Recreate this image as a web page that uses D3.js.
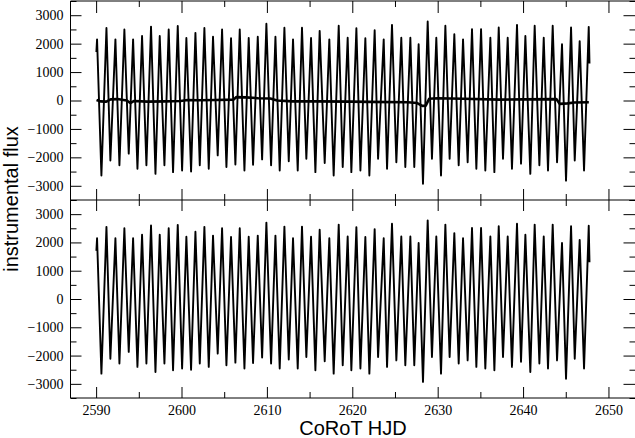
<!DOCTYPE html>
<html>
<head>
<meta charset="utf-8">
<script src="https://cdn.jsdelivr.net/npm/d3@7"></script>
<style>
  html, body { margin: 0; padding: 0; background: #fff; }
  svg { display: block; }
</style>
</head>
<body>
<svg id="chart" width="635" height="438"></svg>
<script>
// ---------- data ----------
const xTicks = [2590, 2600, 2610, 2620, 2630, 2640, 2650];
const xMinorTicks = [2585, 2595, 2605, 2615, 2625, 2635, 2645, 2655];
const yTicks = [-3000, -2000, -1000, 0, 1000, 2000, 3000];
const yMinorTicks = [-3500, -2500, -1500, -500, 500, 1500, 2500, 3500];

// light-curve maxima
const peakTimes = [2590.11, 2591.21, 2592.26, 2593.31, 2594.33, 2595.38, 2596.43, 2597.45, 2598.50, 2599.56,
  2600.57, 2601.63, 2602.68, 2603.69, 2604.75, 2605.80, 2606.82, 2607.87, 2608.93, 2609.94,
  2611.00, 2612.05, 2613.06, 2614.11, 2615.17, 2616.18, 2617.31, 2618.41, 2619.46, 2620.48,
  2621.53, 2622.62, 2623.68, 2624.65, 2625.74, 2626.80, 2627.77, 2628.83, 2629.84, 2630.90,
  2631.95, 2632.97, 2634.02, 2635.08, 2636.17, 2637.15, 2638.20, 2639.29, 2640.27, 2641.36,
  2642.42, 2643.47, 2644.56, 2645.62, 2646.63, 2647.69];
const peakFlux = [2150, 2550, 2150, 2500, 2150, 2270, 2600, 2270, 2500, 2620,
  2200, 2380, 2550, 2240, 2500, 2190, 2500, 2200, 2240, 2700,
  2240, 2560, 2150, 2560, 2200, 2450, 2150, 2630, 2210, 2540,
  2190, 2470, 2150, 2660, 2210, 2210, 1980, 2780, 2210, 2630,
  2330, 2150, 2510, 2510, 2210, 2570, 2210, 2660, 2270, 2630,
  2210, 2630, 1980, 2570, 2090, 2590];
// light-curve minima
const troughTimes = [2590.62, 2591.67, 2592.73, 2593.82, 2594.84, 2595.89, 2596.95, 2598.00, 2599.01, 2600.07,
  2601.12, 2602.14, 2603.19, 2604.24, 2605.26, 2606.31, 2607.37, 2608.38, 2609.44, 2610.49,
  2611.50, 2612.56, 2613.61, 2614.62, 2615.68, 2616.77, 2617.82, 2618.88, 2619.89, 2620.95,
  2622.00, 2623.02, 2624.07, 2625.16, 2626.21, 2627.26, 2628.28, 2629.33, 2630.39, 2631.40,
  2632.46, 2633.51, 2634.53, 2635.58, 2636.64, 2637.65, 2638.70, 2639.76, 2640.85, 2641.91,
  2642.92, 2643.98, 2645.03, 2646.05, 2647.14];
const troughFlux = [-2640, -2110, -2280, -1870, -2400, -2280, -2580, -2280, -2520, -2460,
  -2500, -2280, -2400, -1930, -2340, -2250, -2460, -2260, -2070, -2280,
  -2460, -2140, -2460, -2050, -2520, -2200, -2640, -2340, -2520, -2460,
  -2640, -2050, -2400, -2170, -2340, -2340, -2930, -2050, -2640, -2050,
  -2280, -2170, -2400, -2460, -2520, -2050, -2400, -2220, -2580, -2280,
  -2460, -2170, -2820, -2110, -2460];
// first and last samples of the light curve
const curveStart = [2590.03, 1700];
const curveEnd = [2647.78, 1300];

// near-zero trace in the upper panel
const trendTimes = [2590.05, 2590.5, 2591.2, 2591.7, 2592.5, 2593.2, 2593.6, 2594.0, 2594.4, 2596.0,
  2598.0, 2599.9, 2600.7, 2602.0, 2604.0, 2606.1, 2606.4, 2607.5, 2609.0, 2610.4,
  2611.2, 2613.0, 2616.0, 2619.8, 2622.0, 2626.5, 2627.6, 2628.2, 2628.6, 2629.0,
  2630.0, 2633.0, 2637.3, 2640.0, 2643.9, 2644.3, 2645.2, 2646.0, 2647.7];
const trendFlux = [20, -30, -40, 40, 50, 20, 0, -90, -20, -40,
  -30, -20, 20, 10, 20, 30, 120, 110, 80, 70,
  0, -30, -30, -40, -50, -60, -90, -190, -180, 60,
  80, 60, 30, 40, 50, -120, -100, -70, -60];

// ---------- layout ----------
const svg = d3.select("#chart");
const L = 70.5, R = 634.5, RF = 635.5, T = 1, MID = 200, B = 398;

const x = d3.scaleLinear().domain([2587, 2653.05]).range([L, R]);
const yTop = d3.scaleLinear().domain([-3500, 3500]).range([MID, T]);
const yBot = d3.scaleLinear().domain([-3500, 3500]).range([B, MID]);

const curve = [curveStart]
  .concat(peakTimes.map((t, i) => [t, peakFlux[i]]))
  .concat(troughTimes.map((t, i) => [t, troughFlux[i]]))
  .concat([curveEnd])
  .sort((a, b) => a[0] - b[0]);
const trend = trendTimes.map((t, i) => [t, trendFlux[i]]);

const tickFont = "'Liberation Serif', 'Times New Roman', serif";
const titleFont = "'Liberation Sans', Arial, sans-serif";

function styleAxis(g, labels) {
  g.select(".domain").remove();
  g.selectAll(".tick line").attr("stroke", "#000").attr("stroke-width", 1);
  g.selectAll(".tick text")
    .attr("font-family", tickFont).attr("font-size", 14).attr("fill", "#000");
  if (!labels) g.selectAll(".tick text").remove();
}

// clip paths
svg.append("clipPath").attr("id", "clipTop").append("rect")
  .attr("x", L).attr("y", T).attr("width", RF - L).attr("height", MID - T);
svg.append("clipPath").attr("id", "clipBot").append("rect")
  .attr("x", L).attr("y", MID).attr("width", RF - L).attr("height", B - MID);

// data lines
const lineTop = d3.line().x(d => x(d[0])).y(d => yTop(d[1]));
const lineBot = d3.line().x(d => x(d[0])).y(d => yBot(d[1]));

svg.append("path").datum(curve).attr("clip-path", "url(#clipTop)")
  .attr("d", lineTop).attr("fill", "none").attr("stroke", "#000")
  .attr("stroke-width", 1.9).attr("stroke-linejoin", "round");
svg.append("path").datum(trend).attr("clip-path", "url(#clipTop)")
  .attr("d", lineTop).attr("fill", "none").attr("stroke", "#000")
  .attr("stroke-width", 2.6).attr("stroke-linejoin", "round");
svg.append("path").datum(curve).attr("clip-path", "url(#clipBot)")
  .attr("d", lineBot).attr("fill", "none").attr("stroke", "#000")
  .attr("stroke-width", 1.9).attr("stroke-linejoin", "round");

// y axes (left, labelled) for both panels
[yTop, yBot].forEach(y => {
  svg.append("g").attr("transform", `translate(${L},0)`)
    .call(d3.axisLeft(y).tickValues(yTicks).tickSize(-11).tickPadding(7).tickFormat(d3.format("d")))
    .call(g => styleAxis(g, true));
  svg.append("g").attr("transform", `translate(${L},0)`)
    .call(d3.axisLeft(y).tickValues(yMinorTicks).tickSize(-6))
    .call(g => styleAxis(g, false));
  svg.append("g").attr("transform", `translate(${RF},0)`)
    .call(d3.axisRight(y).tickValues(yTicks).tickSize(-12))
    .call(g => styleAxis(g, false));
  svg.append("g").attr("transform", `translate(${RF},0)`)
    .call(d3.axisRight(y).tickValues(yMinorTicks).tickSize(-6))
    .call(g => styleAxis(g, false));
});

// x axes: bottom (labelled), top, and both sides of the panel separator
const xMajor = xTicks, xMinor = xMinorTicks.filter(v => x(v) > L && x(v) < RF);
svg.append("g").attr("transform", `translate(0,${B})`)
  .call(d3.axisBottom(x).tickValues(xMajor).tickSize(-11).tickPadding(7).tickFormat(d3.format("d")))
  .call(g => styleAxis(g, true));
svg.append("g").attr("transform", `translate(0,${B})`)
  .call(d3.axisBottom(x).tickValues(xMinor).tickSize(-6)).call(g => styleAxis(g, false));
svg.append("g").attr("transform", `translate(0,${T})`)
  .call(d3.axisTop(x).tickValues(xMajor).tickSize(-12)).call(g => styleAxis(g, false));
svg.append("g").attr("transform", `translate(0,${T})`)
  .call(d3.axisTop(x).tickValues(xMinor).tickSize(-6)).call(g => styleAxis(g, false));
svg.append("g").attr("transform", `translate(0,${MID})`)
  .call(d3.axisBottom(x).tickValues(xMajor).tickSize(-11)).call(g => styleAxis(g, false));
svg.append("g").attr("transform", `translate(0,${MID})`)
  .call(d3.axisTop(x).tickValues(xMajor).tickSize(-11)).call(g => styleAxis(g, false));
svg.append("g").attr("transform", `translate(0,${MID})`)
  .call(d3.axisBottom(x).tickValues(xMinor).tickSize(-6)).call(g => styleAxis(g, false));
svg.append("g").attr("transform", `translate(0,${MID})`)
  .call(d3.axisTop(x).tickValues(xMinor).tickSize(-6)).call(g => styleAxis(g, false));

// frame (right edge sits just past the picture edge, as in the original)
const frame = svg.append("g").attr("stroke", "#000").attr("stroke-width", 1).attr("fill", "none");
frame.append("line").attr("x1", L).attr("x2", L).attr("y1", T).attr("y2", B);
frame.append("line").attr("x1", RF).attr("x2", RF).attr("y1", T).attr("y2", B);
frame.append("line").attr("x1", L).attr("x2", RF).attr("y1", T).attr("y2", T);
frame.append("line").attr("x1", L).attr("x2", RF).attr("y1", MID).attr("y2", MID);
frame.append("line").attr("x1", L).attr("x2", RF).attr("y1", B).attr("y2", B);

// titles
svg.append("text").attr("x", 353).attr("y", 434.5).attr("text-anchor", "middle")
  .attr("font-family", titleFont).attr("font-size", 20).attr("fill", "#000")
  .text("CoRoT HJD");
svg.append("text").attr("transform", "translate(18,199) rotate(-90)")
  .attr("text-anchor", "middle")
  .attr("font-family", titleFont).attr("font-size", 20).attr("fill", "#000")
  .text("instrumental flux");
</script>
</body>
</html>
